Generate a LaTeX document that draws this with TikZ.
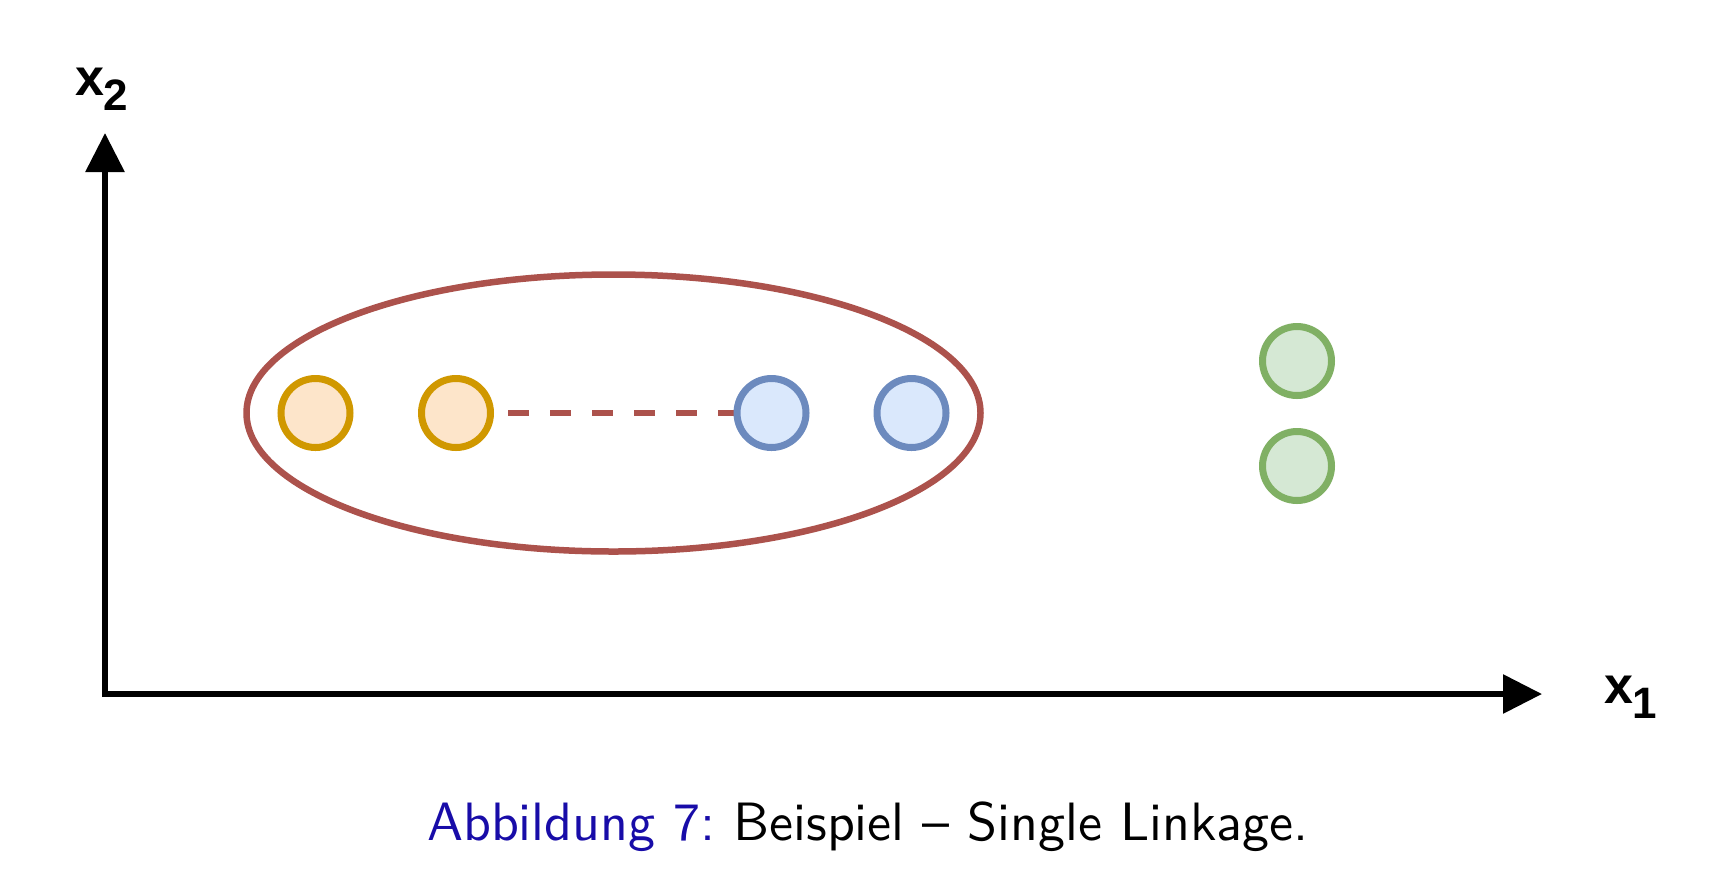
\documentclass[tikz,border=0pt]{standalone}
\usepackage{fontspec}
\newfontfamily\axisfont{Liberation Sans}
\newfontfamily\capfont{lmsans10-regular.otf}[Ligatures=TeX]
\usetikzlibrary{arrows.meta,shapes.geometric,backgrounds}
\definecolor{clred}{RGB}{172,82,76}
\definecolor{orfill}{RGB}{253,229,202}
\definecolor{ordraw}{RGB}{208,152,0}
\definecolor{blfill}{RGB}{218,232,252}
\definecolor{bldraw}{RGB}{108,138,190}
\definecolor{grfill}{RGB}{213,232,212}
\definecolor{grdraw}{RGB}{128,176,100}
\definecolor{capblue}{RGB}{24,12,168}
\tikzset{
  pt/.style={circle, draw, line width=7pt, minimum size=69pt, inner sep=0pt},
  orpt/.style={pt, draw=ordraw, fill=orfill},
  blpt/.style={pt, draw=bldraw, fill=blfill},
  grpt/.style={pt, draw=grdraw, fill=grfill},
  axis/.style={line width=6pt, -{Triangle[length=39pt,width=38pt]}},
  axlabel/.style={inner sep=0pt, outer sep=0pt, anchor=base west},
  link/.style={clred, line width=6pt, dash pattern=on 21pt off 21pt, dash phase=32pt},
}
\newcommand{\axlab}[1]{{\axisfont\bfseries\fontsize{52}{52}\selectfont x}\raisebox{-15pt}{\axisfont\bfseries\fontsize{44}{44}\selectfont #1}}
\begin{document}
\begin{tikzpicture}[x=1pt,y=-1pt]
\useasboundingbox (0,0) rectangle (1710,887);
% axes
\coordinate (O) at (105,694);
\coordinate (Ox) at (102,694);
\coordinate (Oy) at (105,697);
\coordinate (Xtip) at (1542,694);
\coordinate (Ytip) at (105,133);
\draw[axis] (Ox) -- (Xtip);
\draw[axis] (Oy) -- (Ytip);
\node[axlabel] (lx2) at (75,95) {\axlab{2}};
\node[axlabel] (lx1) at (1604,703) {\axlab{1}};
% cluster ellipse
\node[ellipse, draw=clred, line width=6.5pt, minimum width=734pt, minimum height=277pt, inner sep=0pt] (clu) at (613.5,413) {};
% points
\node[orpt] (o1) at (315.5,413) {};
\node[orpt] (o2) at (456,413) {};
\node[blpt] (b1) at (771.5,413) {};
\node[blpt] (b2) at (911.5,413) {};
\node[grpt] (g1) at (1297,361) {};
\node[grpt] (g2) at (1297,466) {};
\begin{scope}[on background layer]
\draw[link] (o2.center) -- (b1.center);
\end{scope}
% caption
\node[inner sep=0pt, anchor=base] (cap) at (868,840) {\frenchspacing\capfont\fontsize{54}{54}\selectfont\textcolor{capblue}{Abbildung 7:} Beispiel – Single Linkage.};
\end{tikzpicture}
\end{document}
